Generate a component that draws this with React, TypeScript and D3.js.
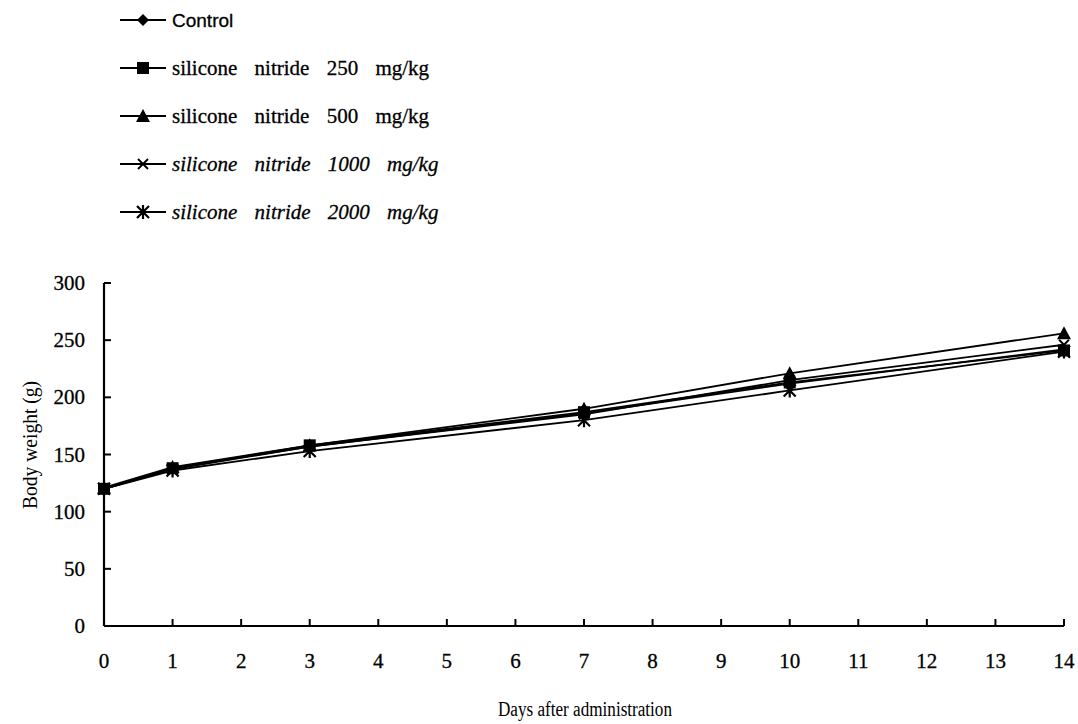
import React from "react";
import * as d3 from "d3";

const days = [0, 1, 3, 7, 10, 14];
const seriesNames = [
  "Control",
  "silicone nitride 250 mg/kg",
  "silicone nitride 500 mg/kg",
  "silicone nitride 1000 mg/kg",
  "silicone nitride 2000 mg/kg",
];
const control = [120, 138, 157, 186, 212, 242];
const sn250 = [120, 138, 158, 187, 213, 241];
const sn500 = [121, 139, 158, 190, 221, 256];
const sn1000 = [120, 137, 157, 185, 215, 246];
const sn2000 = [120, 136, 153, 180, 206, 240];
const seriesValues = [control, sn250, sn500, sn1000, sn2000];
const markerTypes = ["diamond", "square", "triangle", "x", "star"];
const italicRows = [false, false, false, true, true];
const xTicks = d3.range(0, 15);
const yTicks = [0, 50, 100, 150, 200, 250, 300];

const W = 1078;
const H = 724;
const left = 104;
const right = 1064;
const top = 283;
const bottom = 626;
const SERIF = "'Liberation Serif', serif";
const SANS = "'Liberation Sans', sans-serif";

function Marker({ type, x, y }: { type: string; x: number; y: number }) {
  const s = 6;
  if (type === "diamond")
    return <path d={`M${x},${y - s}L${x + s},${y}L${x},${y + s}L${x - s},${y}Z`} fill="#000" />;
  if (type === "square")
    return <rect x={x - 6} y={y - 6} width={12} height={12} fill="#000" />;
  if (type === "triangle")
    return <path d={`M${x},${y - 7}L${x + 7},${y + 6}L${x - 7},${y + 6}Z`} fill="#000" />;
  if (type === "x")
    return (
      <path
        d={`M${x - 5},${y - 5}L${x + 5},${y + 5}M${x - 5},${y + 5}L${x + 5},${y - 5}`}
        stroke="#000"
        strokeWidth={1.8}
      />
    );
  return (
    <path
      d={`M${x - 6},${y - 6}L${x + 6},${y + 6}M${x - 6},${y + 6}L${x + 6},${y - 6}M${x},${y - 7}L${x},${y + 7}`}
      stroke="#000"
      strokeWidth={2.2}
    />
  );
}

export default function App() {
  const x = d3.scaleLinear().domain([0, 14]).range([left, right]);
  const y = d3.scaleLinear().domain([0, 300]).range([bottom, top]);
  const line = d3
    .line<number>()
    .x((_, i) => x(days[i]))
    .y((d) => y(d));

  return (
    <svg
      width={W}
      height={H}
      style={{ position: "absolute", left: 0, top: 0, background: "#fff", fontFamily: SERIF }}
    >
      <rect width={W} height={H} fill="#fff" />
      {/* legend */}
      {seriesNames.map((name, i) => {
        const ly = 20 + i * 48;
        return (
          <g key={name}>
            <line x1={120} x2={166} y1={ly} y2={ly} stroke="#000" strokeWidth={1.8} />
            <Marker type={markerTypes[i]} x={143} y={ly} />
            <text
              x={172}
              y={ly + 7}
              fill="#000"
              stroke="#000"
              strokeWidth={0.3}
              style={{
                fontFamily: i === 0 ? SANS : SERIF,
                fontSize: i === 0 ? 19 : 21,
                fontStyle: italicRows[i] ? "italic" : "normal",
                wordSpacing: i === 0 ? 0 : 12,
              }}
            >
              {name}
            </text>
          </g>
        );
      })}
      {/* axes */}
      <line x1={left} x2={left} y1={top} y2={bottom} stroke="#000" strokeWidth={2.2} />
      <line x1={left} x2={right} y1={bottom} y2={bottom} stroke="#000" strokeWidth={2.2} />
      {yTicks.map((t) => (
        <g key={"y" + t}>
          <line x1={left} x2={left + 7} y1={y(t)} y2={y(t)} stroke="#000" strokeWidth={2} />
          <text x={85} y={y(t) + 7} textAnchor="end" fill="#000" stroke="#000" strokeWidth={0.3} style={{ fontFamily: SERIF, fontSize: 21 }}>
            {t}
          </text>
        </g>
      ))}
      {xTicks.map((t) => (
        <g key={"x" + t}>
          <line x1={x(t)} x2={x(t)} y1={bottom} y2={bottom - 7} stroke="#000" strokeWidth={2} />
          <text x={x(t)} y={668} textAnchor="middle" fill="#000" stroke="#000" strokeWidth={0.3} style={{ fontFamily: SERIF, fontSize: 21 }}>
            {t}
          </text>
        </g>
      ))}
      <text
        transform={`translate(37,445) rotate(-90)`}
        textAnchor="middle"
        textLength={128}
        lengthAdjust="spacingAndGlyphs"
        fill="#000"
        style={{ fontFamily: SERIF, fontSize: 20 }}
      >
        Body weight (g)
      </text>
      <text
        x={585}
        y={716}
        textAnchor="middle"
        textLength={174}
        lengthAdjust="spacingAndGlyphs"
        fill="#000"
        style={{ fontFamily: SERIF, fontSize: 20 }}
      >
        Days after administration
      </text>
      {/* series */}
      {seriesValues.map((vals, i) => (
        <path key={"l" + i} d={line(vals) || ""} fill="none" stroke="#000" strokeWidth={1.8} />
      ))}
      {seriesValues.map((vals, i) => (
        <g key={"m" + i}>
          {vals.map((v, j) => (
            <Marker key={j} type={markerTypes[i]} x={x(days[j])} y={y(v)} />
          ))}
        </g>
      ))}
    </svg>
  );
}
